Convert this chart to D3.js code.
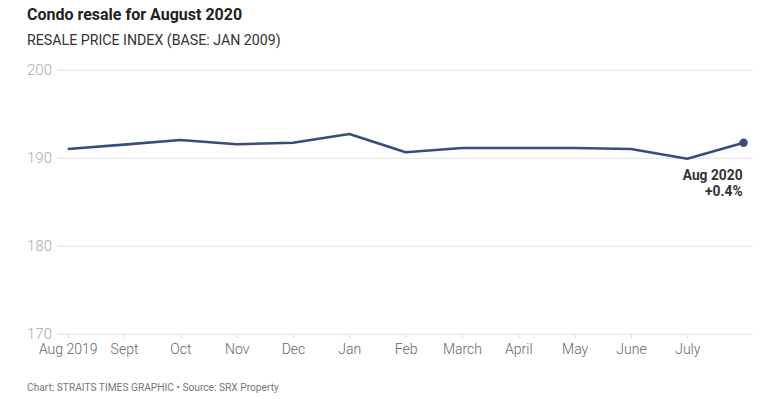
<!DOCTYPE html>
<html><head><meta charset="utf-8">
<script src="https://cdn.jsdelivr.net/npm/d3@7"></script>
<style>body{margin:0;background:#fff;}svg{display:block;font-family:Roboto,"Noto Sans",sans-serif;}</style>
</head><body>
<svg id="chart" width="779" height="399"></svg>
<script>
const months = ["Aug 2019","Sept","Oct","Nov","Dec","Jan","Feb","March","April","May","June","July","Aug 2020"];
const tickLabels = ["Aug 2019","Sept","Oct","Nov","Dec","Jan","Feb","March","April","May","June","July"];
const values = [191.06,191.55,192.08,191.6,191.77,192.76,190.68,191.17,191.17,191.17,191.06,189.95,191.77];
const yTicks = [170,180,190,200];

const svg = d3.select("#chart");
const x = d3.scalePoint().domain(months).range([67.7,743.6]);
const y = d3.scaleLinear().domain([170,200]).range([334.3,70.3]);

svg.append("text").attr("x",27).attr("y",20).attr("font-size",16).attr("font-weight",700).attr("fill","#222").text("Condo resale for August 2020");
svg.append("text").attr("x",27).attr("y",45).attr("font-size",14.2).attr("fill","#333").text("RESALE PRICE INDEX (BASE: JAN 2009)");

const gy = svg.append("g");
yTicks.forEach(t=>{
  gy.append("line").attr("x1",58).attr("x2",753).attr("y1",y(t)).attr("y2",y(t)).attr("stroke","#e2e2e2").attr("stroke-width",1);
  gy.append("text").attr("x",27).attr("y",y(t)+5).attr("font-size",15).attr("font-weight",300).attr("fill","#aaa").text(t);
});

const gx = svg.append("g").attr("transform",`translate(0,${y(170)})`);
const ax = d3.axisBottom(x).tickValues(tickLabels).tickSize(4).tickPadding(6);
gx.call(ax);
gx.select(".domain").remove();
gx.selectAll(".tick line").attr("stroke","#ddd");
gx.selectAll(".tick text").attr("font-size",14).attr("font-weight",300).attr("fill","#666").attr("font-family","Roboto,sans-serif").attr("dy","0.71em");

const line = d3.line().x((d,i)=>x(months[i])).y(d=>y(d));
svg.append("path").datum(values).attr("d",line).attr("fill","none").attr("stroke","#3a4b7e").attr("stroke-width",2.6).attr("stroke-linejoin","round");

const last = values.length-1;
svg.append("circle").attr("cx",x(months[last])).attr("cy",y(values[last])).attr("r",4.2).attr("fill","#3a4b7e");
svg.append("text").attr("x",x(months[last])-1).attr("y",180).attr("text-anchor","end").attr("font-size",13.8).attr("font-weight",700).attr("fill","#333").text("Aug 2020");
svg.append("text").attr("x",x(months[last])-1).attr("y",196).attr("text-anchor","end").attr("font-size",13.8).attr("font-weight",700).attr("fill","#333").text("+0.4%");

svg.append("text").attr("x",27).attr("y",391).attr("font-size",10.2).attr("fill","#777").text("Chart: STRAITS TIMES GRAPHIC \u2022 Source: SRX Property");
</script>
</body></html>
